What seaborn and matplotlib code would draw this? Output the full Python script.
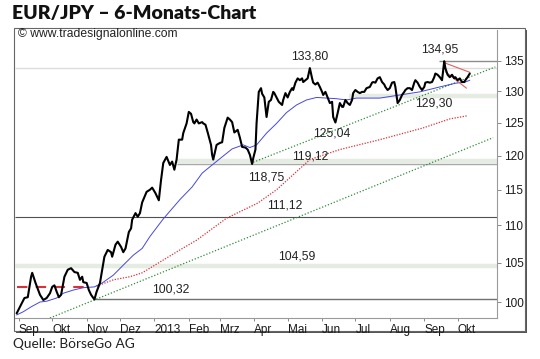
import matplotlib
matplotlib.use("Agg")
import matplotlib.pyplot as plt
import seaborn as sns
import numpy as np
import pandas as pd
from matplotlib.patches import Rectangle
from matplotlib.ticker import NullLocator, NullFormatter, FixedLocator, FixedFormatter

# ---------------- data (days since 2012-08-29) ----------------
days = [1, 8, 11, 14, 15, 18, 22, 25, 28, 31,
        33, 35, 37, 39, 41, 44, 47, 50, 53, 56,
        58, 60, 61, 64, 66, 68, 71, 73, 76, 78,
        80, 83, 86, 87, 90, 92, 95, 97, 99, 102,
        104, 105, 108, 110, 112, 114, 118, 121, 123, 126,
        129, 131, 133, 136, 139, 141, 143, 145, 147, 150,
        151, 154, 156, 158, 160, 161, 163, 165, 168, 169,
        171, 173, 176, 177, 178, 181, 184, 186, 188, 191,
        193, 195, 197, 200, 202, 204, 207, 209, 211, 213,
        214, 216, 217, 219, 221, 222, 224, 226, 228, 230,
        232, 233, 235, 237, 240, 241, 243, 245, 247, 249,
        250, 252, 254, 256, 258, 259, 261, 263, 265, 267,
        268, 270, 272, 274, 276, 277, 279, 281, 283, 285,
        286, 288, 290, 292, 294, 295, 297, 299, 301, 303,
        304, 306, 308, 310, 312, 314, 316, 319, 321, 322,
        324, 326, 328, 330, 332, 333, 335, 337, 339, 341,
        342, 344, 346, 348, 350, 351, 353, 355, 357, 359,
        360, 362, 364, 366, 368, 369, 371, 373, 375, 377,
        378, 380, 382, 384, 386, 387, 389, 391, 393, 395,
        396, 398, 400, 402, 404, 405, 407, 409]
close = [98.6, 100.5, 100.6, 103.2, 103.7, 102.4, 100.9, 100.25, 100.5, 101.1,
         101.9, 102.1, 101.3, 100.6, 100.9, 103.2, 104.1, 104.3, 103.8, 103.7,
         102.8, 103.2, 102.5, 102.4, 101.5, 100.9, 100.32, 101.3, 102.4, 104.1,
         105.8, 106.7, 106.4, 105.8, 107.4, 107.8, 107.1, 106.4, 106.9, 109.1,
         109.6, 110.8, 111.7, 111.2, 111.7, 113.2, 114.7, 115.0, 115.3, 114.5,
         113.5, 116.4, 118.9, 119.8, 118.6, 119.1, 117.9, 119.4, 122.4, 122.4,
         123.4, 124.9, 126.7, 126.4, 125.1, 124.9, 125.5, 124.9, 125.1, 124.9,
         124.7, 123.5, 121.6, 120.1, 119.4, 121.6, 121.9, 122.0, 124.2, 125.8,
         125.5, 125.1, 123.5, 123.9, 122.7, 121.3, 121.2, 120.9, 120.1, 118.75,
         119.6, 120.9, 124.9, 129.9, 130.5, 129.6, 129.0, 125.9, 128.3, 128.6,
         129.9, 129.7, 129.0, 128.3, 127.8, 128.6, 129.7, 129.0, 129.9, 130.5,
         130.2, 131.4, 132.1, 131.8, 132.1, 131.5, 131.8, 132.1, 133.8, 132.1,
         131.4, 131.1, 131.4, 130.7, 129.9, 129.4, 129.9, 129.0, 128.1, 128.3,
         125.9, 125.04, 126.5, 128.1, 127.5, 127.5, 128.6, 128.1, 127.8, 128.6,
         129.7, 130.2, 129.9, 129.7, 129.9, 129.9, 130.5, 130.7, 131.4, 131.5,
         131.4, 132.1, 132.3, 131.5, 131.1, 130.7, 130.2, 130.5, 131.4, 131.5,
         130.7, 128.1, 128.6, 129.4, 129.9, 130.2, 130.5, 130.5, 130.2, 131.4,
         131.8, 131.4, 130.7, 130.2, 130.7, 131.4, 131.5, 131.4, 131.5, 132.3,
         132.9, 132.7, 132.3, 131.8, 134.95, 133.8, 132.7, 132.3, 132.7, 132.1,
         132.3, 131.8, 132.1, 131.5, 131.5, 131.8, 132.3, 132.9]

ma_days = [1, 7, 14, 22, 28, 37, 43, 52, 61, 71, 78, 88, 97, 106, 114, 121, 133,
           148, 159, 168, 177, 186, 195, 205, 211, 217, 226, 235, 244, 253, 262,
           271, 280, 289, 298, 307, 316, 328, 346, 364, 382, 396, 405, 409]
ma_vals = [98.4, 98.8, 99.4, 100.0, 100.1, 100.5, 101.1, 101.5, 101.8, 101.9, 102.4,
           103.4, 104.7, 106.0, 106.9, 108.5, 110.9, 113.6, 115.4, 117.4, 118.6,
           119.8, 121.0, 121.6, 121.2, 121.6, 123.4, 124.9, 126.6, 127.8, 128.6,
           129.0, 128.9, 128.8, 128.6, 128.9, 128.9, 128.9, 129.4, 129.9, 130.7,
           131.3, 131.5, 131.8]

ma200_days = [73, 88, 103, 114, 130, 148, 163, 190, 218, 235, 265, 292, 328, 367, 391, 407]
ma200_vals = [102.0, 102.8, 103.2, 103.7, 105.1, 106.7, 108.0, 111.0, 113.1, 115.0,
              119.4, 120.9, 122.4, 124.2, 125.6, 126.1]
flat_days = [1, 68]
flat_vals = [101.9, 101.9]

trend_low_days = [31, 430]
trend_low_vals = [98.03, 122.7]
trend_up_days = [214, 432]
trend_up_vals = [119.0, 134.0]
chan_top_days = [386, 409]
chan_top_vals = [134.7, 133.1]
chan_bot_days = [387, 406]
chan_bot_vals = [133.2, 130.5]

month_days = [3, 33, 64, 94, 125, 156, 184, 215, 245, 276, 306, 337, 368, 398]
month_labels = ["Sep", "Okt", "Nov", "Dez", "2013", "Feb", "Mrz", "Apr", "Mai",
                "Jun", "Jul", "Aug", "Sep", "Okt"]
yticks = [100, 105, 110, 115, 120, 125, 130, 135]

level_133_80 = 133.80
level_134_95 = 134.95
level_129_30 = 129.30
level_119_12 = 119.12
level_118_75 = 118.75
level_111_12 = 111.12
level_104_59 = 104.59
level_100_32 = 100.32

# ---------------- figure ----------------
sns.set_theme(style="white")
plt.rcParams["font.family"] = ["Liberation Sans", "DejaVu Sans"]

W, H = 540, 359
fig = plt.figure(figsize=(W / 100, H / 100), dpi=100)
fig.patch.set_facecolor("white")


def fx(px):
    return px / W


def fy(py):
    return 1 - py / H


shadow = Rectangle((fx(16), fy(333)), fx(527) - fx(16), fy(30) - fy(333),
                   transform=fig.transFigure, facecolor="#555555", edgecolor="none", zorder=-3)
frame = Rectangle((fx(14), fy(331)), fx(525) - fx(14), fy(28) - fy(331),
                  transform=fig.transFigure, facecolor="white", edgecolor="#666666",
                  linewidth=0.8, zorder=-2)
fig.patches.extend([shadow, frame])

ax = fig.add_axes([fx(15), fy(318), fx(497) - fx(15), fy(30) - fy(318)])
ax.set_facecolor("none")

XMAX = 433.5
ax.set_xlim(-0.5, XMAX)
ax.set_yscale("log")
ax.set_ylim(98.03, 140.3)

band_c = "#e5ede3"
ax.hlines(level_104_59, -0.5, XMAX, color=band_c, lw=3.2, zorder=1)
ax.hlines(level_119_12, 145, XMAX, color=band_c, lw=3.2, zorder=1)
ax.hlines(level_129_30, 300, XMAX, color=band_c, lw=3.2, zorder=1)
ax.hlines(level_133_80, -0.5, XMAX, color="#dcdcdc", lw=1, zorder=1)
ax.hlines(level_134_95, 381, XMAX, color="#8c8c8c", lw=1, zorder=1)
ax.hlines(level_118_75, 145, XMAX, color="#a8a8a8", lw=1, zorder=1)
ax.hlines(level_111_12, -0.5, XMAX, color="#505050", lw=0.8, zorder=1)
ax.hlines(level_100_32, 71, XMAX, color="#707070", lw=1, zorder=1)

ax.plot(trend_low_days, trend_low_vals, color="#2e8b3a", lw=0.9, ls=(0, (1, 1.5)), zorder=2)
ax.plot(trend_up_days, trend_up_vals, color="#2e8b3a", lw=0.9, ls=(0, (1, 1.5)), zorder=2)

sns.lineplot(x=ma200_days, y=ma200_vals, color="#d9303a", lw=0.9, ls=(0, (1, 1.2)),
             ax=ax, estimator=None, zorder=2)
ax.plot(flat_days, flat_vals, color="#d9303a", lw=1.5, ls=(0, (5, 4)), zorder=2)
sns.lineplot(x=ma_days, y=ma_vals, color="#4646e0", lw=0.7, ax=ax, estimator=None, zorder=3)

ax.plot(chan_top_days, chan_top_vals, color="#e06060", lw=0.8, zorder=3)
ax.plot(chan_bot_days, chan_bot_vals, color="#e06060", lw=0.8, zorder=3)

sns.lineplot(x=days, y=close, color="black", lw=1.5, ax=ax, estimator=None, zorder=4)

lab_kw = dict(fontsize=8.8, color="#222222", ha="center", va="center", zorder=5)
ax.text(265, 135.7, "133,80", **lab_kw)
ax.text(382, 137.0, "134,95", **lab_kw)
ax.text(285, 123.4, "125,04", **lab_kw)
ax.text(377, 128.0, "129,30", **lab_kw)
ax.text(265, 119.8, "119,12", **lab_kw)
ax.text(226, 116.8, "118,75", **lab_kw)
ax.text(242, 112.8, "111,12", **lab_kw)
ax.text(253, 105.8, "104,59", **lab_kw)
ax.text(140, 101.6, "100,32", **lab_kw)

for s in ["left", "top"]:
    ax.spines[s].set_visible(False)
for s in ["bottom", "right"]:
    ax.spines[s].set_color("#9a9a9a")
    ax.spines[s].set_linewidth(0.8)

ax.yaxis.tick_right()
ax.yaxis.set_major_locator(FixedLocator(yticks))
ax.yaxis.set_major_formatter(FixedFormatter([str(v) for v in yticks]))
ax.yaxis.set_minor_locator(NullLocator())
ax.yaxis.set_minor_formatter(NullFormatter())
ax.tick_params(axis="y", which="major", direction="out", length=3, width=0.7,
               color="#888888", labelsize=8.5, pad=2, labelcolor="#1a1a1a",
               right=True, left=False)

ax.set_xticks(month_days)
ax.set_xticklabels(month_labels, ha="left")
ax.tick_params(axis="x", direction="out", length=2.5, width=0.7, color="#888888",
               labelsize=8.5, pad=1.5, labelcolor="#1a1a1a", bottom=True)
ax.set_xlabel("")
ax.set_ylabel("")
ax.grid(False)

fig.text(fx(18), fy(33.5), "\u00a9 www.tradesignalonline.com", fontsize=8.7,
         color="#222222", va="center", ha="left")
fig.text(fx(12), fy(13.5), "EUR/JPY \u2013 6-Monats-Chart", fontsize=14,
         weight="heavy", family=["Lato", "DejaVu Sans"], color="#111111",
         va="center", ha="left")
fig.text(fx(13), fy(344), "Quelle: B\u00f6rseGo AG", fontsize=9.8,
         family=["Lato", "DejaVu Sans"], color="#222222", va="center", ha="left")

fig.savefig("out.png", dpi=100)
